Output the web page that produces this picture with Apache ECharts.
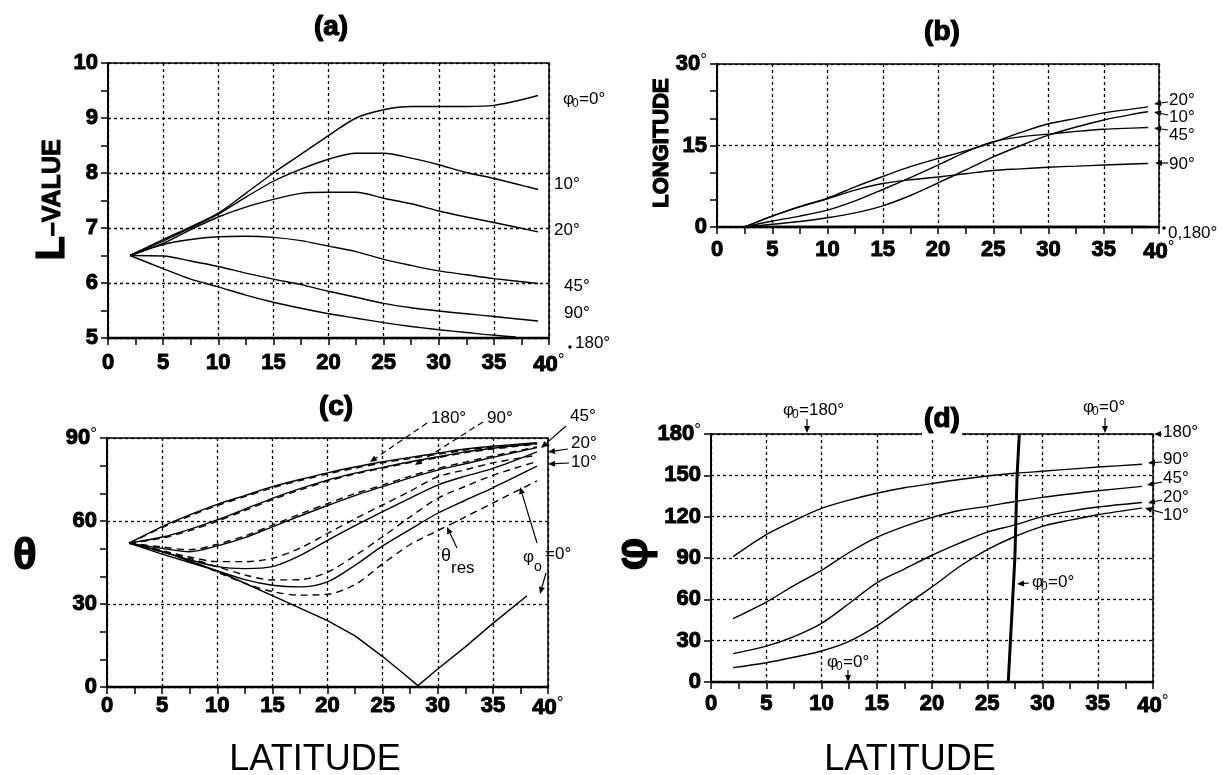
<!DOCTYPE html>
<html>
<head>
<meta charset="utf-8">
<script src="https://cdn.jsdelivr.net/npm/echarts@6/dist/echarts.min.js"></script>
<style>
  html, body { margin: 0; padding: 0; background: #fff; }
  #main { width: 1227px; height: 775px; }
</style>
</head>
<body>
<div id="main"></div>
<script>
// ---- data ----
// (a) L-value vs latitude, one curve per phi0
const latA = [2, 5, 7.5, 10, 12.5, 15, 17.5, 20, 22.5, 25, 27.5, 30, 32.5, 35, 39];
const latA180 = [2, 5, 7.5, 10, 12.5, 15, 17.5, 20, 22.5, 25, 27.5, 30, 32.5, 35, 37];
const lA0 = [6.5, 6.79, 7.02, 7.27, 7.63, 8.0, 8.34, 8.68, 9.0, 9.15, 9.21, 9.21, 9.21, 9.23, 9.41];
const lA10 = [6.5, 6.76, 7.0, 7.25, 7.56, 7.85, 8.07, 8.25, 8.36, 8.36, 8.27, 8.15, 8.01, 7.9, 7.7];
const lA20 = [6.5, 6.72, 6.97, 7.2, 7.38, 7.52, 7.63, 7.65, 7.65, 7.54, 7.44, 7.31, 7.2, 7.1, 6.93];
const lA45 = [6.5, 6.7, 6.79, 6.84, 6.85, 6.83, 6.77, 6.67, 6.57, 6.43, 6.32, 6.22, 6.15, 6.08, 5.99];
const lA90 = [6.5, 6.49, 6.4, 6.3, 6.18, 6.07, 5.97, 5.85, 5.74, 5.63, 5.55, 5.49, 5.44, 5.39, 5.31];
const lA180 = [6.5, 6.26, 6.07, 5.93, 5.78, 5.65, 5.54, 5.44, 5.36, 5.28, 5.21, 5.15, 5.1, 5.05, 5.02];

// (b) longitude vs latitude
const latB = [2.5, 5, 7.5, 10, 12.5, 15, 17.5, 20, 22.5, 25, 27.5, 30, 32.5, 35, 37.5, 39];
const lonB20 = [0, 2.0, 3.8, 5.3, 7.4, 9.3, 11.1, 12.6, 14.0, 15.6, 17.4, 19.0, 20.0, 21.0, 21.7, 22.1];
const lonB10 = [0, 0.5, 1.0, 1.7, 2.6, 3.9, 5.8, 8.1, 10.5, 12.9, 15.0, 16.9, 18.4, 19.7, 20.7, 21.2];
const lonB45 = [0, 1.1, 2.0, 3.1, 4.8, 6.9, 9.1, 11.4, 13.8, 15.7, 16.6, 17.1, 17.6, 18.0, 18.2, 18.3];
const lonB90 = [0, 2.0, 3.7, 5.2, 6.8, 8.0, 8.7, 9.2, 9.8, 10.4, 10.7, 11.0, 11.2, 11.4, 11.6, 11.7];
const lonB180 = [0, 0, 0, 0, 0, 0, 0, 0, 0, 0, 0, 0, 0, 0, 0, 0];

// (c) theta (solid) and theta_res (dashed) vs latitude
const latC = [2, 5, 7.5, 10, 12.5, 15, 17.5, 20, 22.5, 25, 27.5, 30, 32.5, 35, 39];
const thC180 = [52, 58, 62.2, 66, 69.2, 72.4, 75, 77.4, 79.5, 81.4, 83, 84.5, 86, 87, 88.3];
const thC90 = [52, 54.2, 57, 60.4, 64.3, 68.2, 71.7, 74.8, 77.3, 79.4, 81.4, 83.2, 85, 86.3, 88];
const thC45 = [52, 50.1, 48.9, 51, 54, 57.9, 61.8, 65.6, 69.2, 72.4, 75.6, 78.4, 80.7, 83, 86.5];
const thC20 = [52, 48.9, 46, 43.5, 42.8, 43.5, 47.5, 53, 58.3, 63.4, 68.3, 73, 76.2, 79, 85];
const thC10 = [52, 49, 45.5, 42, 38.8, 36.8, 36.2, 38, 44, 51, 57, 62.8, 67.5, 72, 79.8];
const latC0 = [2, 5, 7.5, 10, 12.5, 15, 17.5, 20, 22.5, 25, 27, 28.2, 30, 32.5, 35, 38.1];
const thC0 = [52, 48, 45, 42, 37.5, 33, 28.5, 24, 18.5, 11, 4.5, 0.5, 6.5, 14.5, 23, 33];
const resC180 = [52, 57.6, 61.8, 65.6, 68.8, 72, 74.6, 77, 79.1, 81, 82.6, 84.1, 85.6, 86.7, 88];
const resC90 = [52, 53.8, 56.5, 59.9, 63.8, 67.7, 71.2, 74.4, 77, 79.1, 81.1, 82.9, 84.7, 86, 87.8];
const resC45 = [52, 50.6, 49.6, 51.6, 54.6, 58.5, 62.5, 66.3, 69.9, 73, 76.2, 79, 81.3, 83.5, 86.8];
const resC20 = [52, 49.2, 47, 45.3, 45.3, 46.5, 50.2, 55.5, 60.8, 65.8, 70.8, 76, 78.5, 81, 83.8];
const resC10 = [52, 49.3, 46.5, 43.5, 40.5, 38.7, 38.8, 41.5, 47.5, 54.3, 61.5, 68.2, 72.5, 76.5, 81.5];
const resC0 = [52, 48.8, 45.8, 41.5, 37.5, 34.5, 33.2, 33.5, 37, 44.5, 51.5, 56.5, 61.5, 66.5, 74.5];

// (d) phi vs latitude
const latD = [2, 5, 7.5, 10, 12.5, 15, 17.5, 20, 22.5, 25, 27.5, 30, 32.5, 35, 39];
const phD90 = [91, 107, 117, 126, 132, 137, 141, 144, 147, 149.5, 151.5, 153, 154.5, 156, 158];
const phD45 = [46, 58, 70, 81, 94, 105, 113, 119.5, 124.5, 127.5, 131, 134, 136.5, 138.8, 142];
const phD20 = [20.6, 26, 33, 42.6, 57, 72, 82, 92, 100.8, 108.8, 114, 120, 124, 127, 130.3];
const phD10 = [10.4, 14, 18, 22.5, 29.5, 40.7, 55, 69, 83.8, 96, 105.6, 113, 117.5, 121.4, 126.2];
const latD0 = [26.9, 27.3, 27.5, 27.7, 27.9];
const phD0 = [0, 60, 90, 150, 180];

// ---- styling helpers ----
const TICKFONT = '"Liberation Sans", Arial, sans-serif';
const NOTEFONT = '"Liberation Sans", Arial, sans-serif';
const DEG = { fontSize: 17, fontFamily: NOTEFONT, fontWeight: 'normal', textBorderWidth: 0, padding: [0, 0, 8, 0] };

function xAx(grid, margin) {
    return {
        type: 'value', gridIndex: grid, min: 0, max: 40, interval: 5,
        axisLine: { lineStyle: { color: '#000', width: 2.4 } },
        axisTick: { length: 7, lineStyle: { color: '#000', width: 1.5 } },
        minorTick: { show: true, splitNumber: 2, length: 7, lineStyle: { color: '#000', width: 1.5 } },
        splitLine: { show: true, lineStyle: { color: '#000', width: 1.3, type: [3, 3] } },
        axisLabel: {
            color: '#000', fontFamily: TICKFONT, fontWeight: 'bold', fontSize: 22, margin: margin,
            textBorderColor: '#000', textBorderWidth: 1,
            formatter: v => v === 40 ? '40{d|°}' : String(v),
            rich: { d: DEG }
        }
    };
}

function yAx(grid, min, max, interval, minorSplit, degTop) {
    return {
        type: 'value', gridIndex: grid, min: min, max: max, interval: interval,
        axisLine: { show: true, lineStyle: { color: '#000', width: 2 } },
        axisTick: { show: true, length: 7, lineStyle: { color: '#000', width: 1.5 } },
        minorTick: { show: minorSplit > 0, splitNumber: minorSplit || 2, length: 7, lineStyle: { color: '#000', width: 1.5 } },
        splitLine: { show: true, lineStyle: { color: '#000', width: 1.3, type: [3, 3] } },
        axisLabel: {
            color: '#000', fontFamily: TICKFONT, fontWeight: 'bold', fontSize: 22, margin: 10,
            textBorderColor: '#000', textBorderWidth: 1,
            formatter: v => (degTop && v === max) ? v + '{d|°}' : String(v),
            rich: { d: DEG }
        }
    };
}

function curve(grid, xs, ys, dashed, width, smooth) {
    return {
        type: 'line', xAxisIndex: grid, yAxisIndex: grid,
        data: xs.map((x, i) => [x, ys[i]]),
        symbol: 'none', showSymbol: false, silent: true, animation: false,
        smooth: smooth === undefined ? 0.3 : smooth, z: 3,
        lineStyle: { color: '#000', width: width || 1.4, type: dashed ? [7, 5] : 'solid' }
    };
}

// annotation helpers (pixel positions)
function txt(x, y, s, size, font, align) {
    return {
        type: 'text', x: x, y: y, silent: true, z: 10,
        style: {
            text: s, fill: '#000', font: (font || '') + ' ' + (size || 17) + 'px ' + NOTEFONT,
            textAlign: align || 'left', textVerticalAlign: 'middle'
        }
    };
}
function bold(x, y, s, size, rot) {
    return {
        type: 'text', x: x, y: y, rotation: rot || 0, silent: true, z: 10,
        style: {
            text: s, fill: '#000', font: 'bold ' + size + 'px ' + TICKFONT,
            stroke: '#000', lineWidth: 1.2,
            textAlign: 'center', textVerticalAlign: 'middle'
        }
    };
}
function arrow(x1, y1, x2, y2, dashed) {
    const a = Math.atan2(y2 - y1, x2 - x1), L = 7, W = 3;
    const bx = x2 - L * Math.cos(a), by = y2 - L * Math.sin(a);
    return [
        { type: 'line', silent: true, z: 10, shape: { x1: x1, y1: y1, x2: bx, y2: by },
          style: { stroke: '#000', lineWidth: 1.2, lineDash: dashed ? [6, 4] : null } },
        { type: 'polygon', silent: true, z: 10,
          shape: { points: [[x2, y2], [bx - W * Math.sin(a), by + W * Math.cos(a)], [bx + W * Math.sin(a), by - W * Math.cos(a)]] },
          style: { fill: '#000' } }
    ];
}
function phi0(x, y, rest) {
    return [txt(x, y, 'φ', 17), txt(x + 9, y + 5, '0', 12), txt(x + 16, y, rest, 17)];
}
function dot(x, y) {
    return { type: 'circle', silent: true, z: 10, shape: { cx: x, cy: y, r: 1.8 }, style: { fill: '#000' } };
}

const notes = [].concat(
    // titles
    bold(331, 27, '(a)', 28),
    bold(942, 32, '(b)', 28),
    bold(336, 407, '(c)', 28),
    { type: 'rect', silent: true, z: 9, shape: { x: 922, y: 429, width: 40, height: 10 }, style: { fill: '#fff' } },
    bold(942, 419, '(d)', 28),
    // axis names
    {
        type: 'text', x: 53, y: 200, rotation: Math.PI / 2, silent: true,
        style: {
            text: '{L|L}{v|–VALUE}', textAlign: 'center', textVerticalAlign: 'middle',
            rich: {
                L: { font: 'bold 40px ' + TICKFONT, fill: '#000', stroke: '#000', lineWidth: 1.2 },
                v: { font: 'bold 25px ' + TICKFONT, fill: '#000', stroke: '#000', lineWidth: 1 }
            }
        }
    },
    bold(662, 143, 'LONGITUDE', 22, Math.PI / 2),
    bold(25, 557, 'θ', 44),
    bold(634, 554, 'φ', 46, Math.PI / 2),
    txt(315, 760, 'LATITUDE', 36, '', 'center'),
    txt(910, 760, 'LATITUDE', 36, '', 'center'),
    // (a) right labels
    phi0(563, 99, '=0°'),
    txt(554, 184, '10°'), txt(554, 230, '20°'), txt(564, 286, '45°'), txt(564, 313, '90°'),
    txt(575, 343, '180°'), dot(570, 347),
    // (b) right labels
    arrow(1168, 102, 1154, 104), txt(1169, 100, '20°'),
    arrow(1168, 115, 1154, 112), txt(1169, 117, '10°'),
    arrow(1168, 130, 1154, 128), txt(1169, 135, '45°'),
    arrow(1168, 163, 1155, 163), txt(1169, 164, '90°'),
    dot(1164, 228), txt(1168, 233, '0,180°'),
    // (c) labels
    txt(431, 418, '180°'), arrow(427, 423, 370, 462, true),
    txt(487, 418, '90°'), arrow(483, 422, 415, 465, true),
    txt(570, 416, '45°'), arrow(566, 426, 541, 448),
    txt(571, 443, '20°'), arrow(568, 449, 548, 452),
    txt(571, 462, '10°'), arrow(569, 463, 548, 464),
    txt(441, 556, 'θ', 18), txt(451, 568, 'res', 17),
    arrow(457, 548, 447, 527),
    txt(523, 557, 'φ', 17), txt(534, 567, 'o', 14), txt(545, 554, '=0°', 17),
    arrow(537, 543, 520, 487),
    arrow(546, 573, 540, 594),
    // (d) labels
    phi0(783, 410, '=180°'), arrow(807, 419, 807, 433),
    phi0(1083, 407, '=0°'), arrow(1105, 418, 1105, 433),
    txt(1163, 432, '180°'), arrow(1162, 434, 1154, 434),
    txt(1163, 459, '90°'), arrow(1162, 462, 1148, 463),
    txt(1163, 478, '45°'), arrow(1162, 482, 1147, 485),
    txt(1163, 497, '20°'), arrow(1162, 500, 1148, 503),
    txt(1163, 515, '10°'), arrow(1163, 513, 1145, 508),
    phi0(1032, 582, '=0°'), arrow(1029, 583, 1017, 584),
    phi0(827, 662, '=0°'), arrow(848, 670, 848, 682)
);

const gridStyle = { show: true, borderColor: '#000', borderWidth: 1.5, backgroundColor: 'transparent', outerBoundsMode: 'none' };

const chart = echarts.init(document.getElementById('main'), null, { renderer: 'canvas' });
chart.setOption({
    animation: false,
    backgroundColor: '#fff',
    grid: [
        Object.assign({ left: 108, top: 63, width: 441, height: 275 }, gridStyle),
        Object.assign({ left: 717, top: 64, width: 442, height: 163 }, gridStyle),
        Object.assign({ left: 107, top: 438, width: 441, height: 249 }, gridStyle),
        Object.assign({ left: 711, top: 434, width: 442, height: 248 }, gridStyle)
    ],
    xAxis: [xAx(0, 14), xAx(1, 12), xAx(2, 8), xAx(3, 11)],
    yAxis: [
        yAx(0, 5, 10, 1, 2, false),
        yAx(1, 0, 30, 15, 3, true),
        yAx(2, 0, 90, 30, 3, true),
        yAx(3, 0, 180, 30, 0, true)
    ],
    series: [
        curve(0, latA, lA0), curve(0, latA, lA10), curve(0, latA, lA20),
        curve(0, latA, lA45), curve(0, latA, lA90), curve(0, latA180, lA180),

        curve(1, latB, lonB20), curve(1, latB, lonB10), curve(1, latB, lonB45),
        curve(1, latB, lonB90), curve(1, latB, lonB180, false, 2.6),

        curve(2, latC, thC180), curve(2, latC, thC90), curve(2, latC, thC45),
        curve(2, latC, thC20), curve(2, latC, thC10), curve(2, latC0, thC0, false, 1.4, false),
        curve(2, latC, resC180, true), curve(2, latC, resC90, true), curve(2, latC, resC45, true),
        curve(2, latC, resC20, true), curve(2, latC, resC10, true), curve(2, latC, resC0, true),

        curve(3, latD, phD90), curve(3, latD, phD45), curve(3, latD, phD20), curve(3, latD, phD10),
        curve(3, latD0, phD0, false, 3, false)
    ],
    graphic: { elements: notes }
});
</script>
</body>
</html>
